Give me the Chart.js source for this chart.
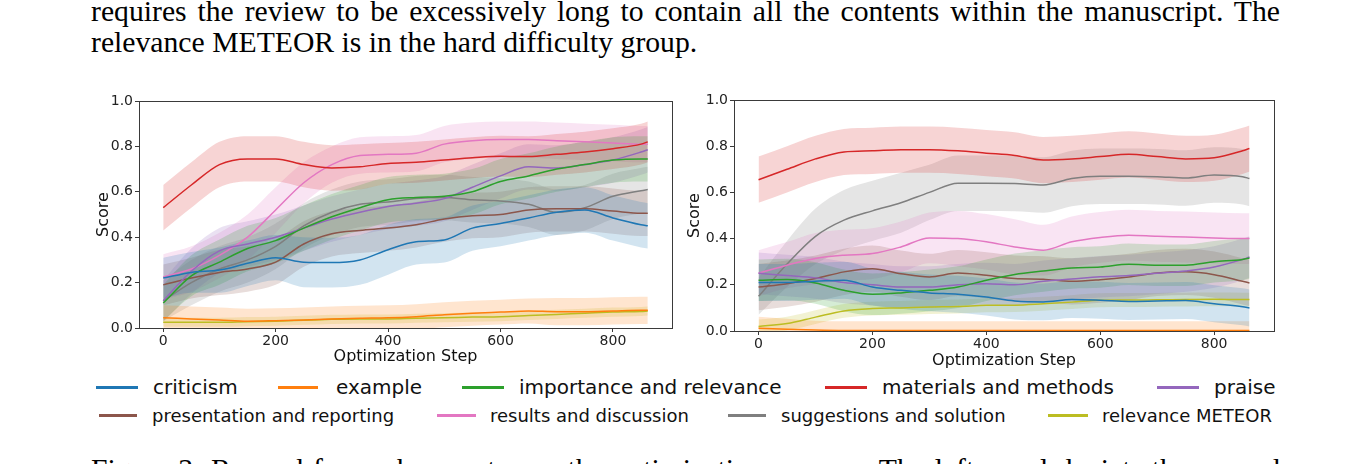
<!DOCTYPE html>
<html>
<head>
<meta charset="utf-8">
<script src="https://cdn.jsdelivr.net/npm/chart.js@4.4.1/dist/chart.umd.min.js"></script>
<style>
  body { margin: 0; background: #fff; width: 1369px; height: 464px; overflow: hidden; position: relative; }
  .para { position: absolute; left: 91px; width: 1189px; font-family: 'Liberation Serif', serif; font-size: 29.7px; line-height: 31px; color: #000; }
  .just { text-align: justify; text-align-last: justify; }
  canvas { position: absolute; }
  .leg { position: absolute; font-family: 'DejaVu Sans', sans-serif; color: #111; white-space: nowrap; }
  .sw { position: absolute; height: 3px; }
</style>
</head>
<body>
<div class="para" style="top:-4px">
  <div class="just">requires the review to be excessively long to contain all the contents within the manuscript. The</div>
  <div>relevance METEOR is in the hard difficulty group.</div>
</div>
<div class="para just" style="top:454px">Figure 3: Reward for each aspect over the optimization process. The left panel depicts the reward and the</div>

<canvas id="leftChart" width="600" height="282" style="left:80px;top:88px"></canvas>
<canvas id="rightChart" width="610" height="282" style="left:675px;top:88px"></canvas>
<div id="legend"></div>

<script>
// x positions of the smoothed curves (optimization step)
const steps = [0, 50, 100, 150, 200, 250, 300, 350, 400, 450, 500, 550, 600, 650, 700, 750, 800, 850, 862];
const categories = ['criticism', 'example', 'importance and relevance', 'materials and methods', 'praise',
                    'presentation and reporting', 'results and discussion', 'suggestions and solution', 'relevance METEOR'];
const yTicks = [0, 0.2, 0.4, 0.6, 0.8, 1.0];
const xTicks = [0, 200, 400, 600, 800];

// left panel: mean score and half width of the shaded band
const leftCriticism     = [0.22, 0.245, 0.255, 0.285, 0.31, 0.29, 0.288, 0.30, 0.345, 0.38, 0.388, 0.44, 0.46, 0.485, 0.51, 0.52, 0.485, 0.455, 0.45];
const leftExample       = [0.045, 0.04, 0.035, 0.03, 0.032, 0.035, 0.04, 0.043, 0.045, 0.05, 0.058, 0.065, 0.07, 0.075, 0.072, 0.072, 0.075, 0.078, 0.078];
const leftImportance    = [0.11, 0.23, 0.29, 0.35, 0.385, 0.44, 0.49, 0.53, 0.565, 0.575, 0.58, 0.60, 0.645, 0.67, 0.70, 0.72, 0.74, 0.745, 0.745];
const leftMaterials     = [0.53, 0.63, 0.72, 0.745, 0.745, 0.72, 0.705, 0.71, 0.725, 0.73, 0.74, 0.75, 0.757, 0.755, 0.765, 0.775, 0.79, 0.81, 0.82];
const leftPraise        = [0.12, 0.25, 0.34, 0.37, 0.40, 0.44, 0.48, 0.51, 0.535, 0.55, 0.57, 0.62, 0.67, 0.71, 0.705, 0.72, 0.74, 0.775, 0.785];
const leftPresentation  = [0.19, 0.22, 0.245, 0.26, 0.29, 0.37, 0.415, 0.43, 0.44, 0.455, 0.48, 0.495, 0.50, 0.52, 0.525, 0.525, 0.515, 0.505, 0.505];
const leftResults       = [0.225, 0.26, 0.32, 0.40, 0.52, 0.64, 0.72, 0.76, 0.765, 0.77, 0.81, 0.825, 0.83, 0.83, 0.825, 0.82, 0.815, 0.81, 0.81];
const leftSuggestions   = [0.12, 0.20, 0.26, 0.30, 0.36, 0.45, 0.51, 0.545, 0.555, 0.57, 0.575, 0.565, 0.56, 0.545, 0.51, 0.53, 0.58, 0.605, 0.61];
const leftMeteor        = [0.025, 0.025, 0.025, 0.028, 0.03, 0.034, 0.038, 0.04, 0.04, 0.043, 0.045, 0.048, 0.05, 0.055, 0.06, 0.065, 0.07, 0.073, 0.075];

const leftCriticismBand    = [0.09, 0.09, 0.1, 0.1, 0.1, 0.11, 0.11, 0.11, 0.11, 0.1, 0.1, 0.1, 0.1, 0.1, 0.1, 0.1, 0.1, 0.1, 0.1];
const leftExampleBand      = [0.055, 0.055, 0.055, 0.055, 0.055, 0.055, 0.055, 0.055, 0.055, 0.055, 0.055, 0.055, 0.055, 0.055, 0.06, 0.06, 0.06, 0.06, 0.06];
const leftImportanceBand   = [0.08, 0.09, 0.1, 0.1, 0.1, 0.1, 0.1, 0.1, 0.1, 0.1, 0.1, 0.1, 0.1, 0.1, 0.1, 0.1, 0.1, 0.1, 0.1];
const leftMaterialsBand    = [0.1, 0.1, 0.1, 0.1, 0.1, 0.1, 0.1, 0.1, 0.09, 0.09, 0.09, 0.09, 0.09, 0.09, 0.09, 0.09, 0.09, 0.09, 0.09];
const leftPraiseBand       = [0.09, 0.1, 0.1, 0.1, 0.1, 0.1, 0.1, 0.1, 0.1, 0.1, 0.1, 0.1, 0.1, 0.1, 0.1, 0.1, 0.1, 0.1, 0.1];
const leftPresentationBand = [0.09, 0.09, 0.1, 0.1, 0.1, 0.1, 0.1, 0.1, 0.1, 0.1, 0.1, 0.1, 0.1, 0.1, 0.1, 0.1, 0.1, 0.1, 0.1];
const leftResultsBand      = [0.1, 0.1, 0.1, 0.1, 0.1, 0.09, 0.08, 0.08, 0.08, 0.08, 0.08, 0.08, 0.08, 0.08, 0.08, 0.08, 0.08, 0.08, 0.08];
const leftSuggestionsBand  = [0.09, 0.1, 0.1, 0.1, 0.1, 0.1, 0.1, 0.1, 0.1, 0.1, 0.1, 0.1, 0.1, 0.1, 0.1, 0.1, 0.1, 0.1, 0.1];
const leftMeteorBand       = [0.02, 0.02, 0.02, 0.02, 0.02, 0.02, 0.02, 0.02, 0.02, 0.02, 0.02, 0.02, 0.02, 0.02, 0.02, 0.02, 0.02, 0.02, 0.02];

// right panel
const rightCriticism    = [0.21, 0.21, 0.215, 0.22, 0.19, 0.176, 0.165, 0.159, 0.147, 0.13, 0.126, 0.136, 0.133, 0.128, 0.13, 0.132, 0.118, 0.105, 0.10];
const rightExample      = [0.012, 0.008, 0.004, 0.002, 0.002, 0.002, 0.002, 0.002, 0.002, 0.002, 0.002, 0.002, 0.002, 0.002, 0.002, 0.002, 0.002, 0.002, 0.002];
const rightImportance   = [0.22, 0.223, 0.208, 0.176, 0.159, 0.165, 0.176, 0.19, 0.22, 0.245, 0.26, 0.273, 0.277, 0.289, 0.285, 0.285, 0.30, 0.31, 0.316];
const rightMaterials    = [0.655, 0.70, 0.745, 0.775, 0.78, 0.785, 0.785, 0.78, 0.77, 0.76, 0.74, 0.745, 0.755, 0.765, 0.755, 0.745, 0.75, 0.78, 0.79];
const rightPraise       = [0.25, 0.24, 0.23, 0.21, 0.20, 0.19, 0.19, 0.20, 0.205, 0.20, 0.215, 0.225, 0.235, 0.24, 0.25, 0.26, 0.277, 0.31, 0.32];
const rightPresentation = [0.19, 0.205, 0.227, 0.256, 0.27, 0.248, 0.234, 0.251, 0.241, 0.227, 0.224, 0.215, 0.222, 0.234, 0.251, 0.256, 0.244, 0.215, 0.208];
const rightResults      = [0.25, 0.285, 0.314, 0.328, 0.335, 0.364, 0.403, 0.40, 0.386, 0.364, 0.35, 0.386, 0.405, 0.415, 0.41, 0.407, 0.403, 0.40, 0.40];
const rightSuggestions  = [0.15, 0.29, 0.41, 0.48, 0.52, 0.555, 0.60, 0.64, 0.64, 0.638, 0.632, 0.66, 0.67, 0.67, 0.668, 0.662, 0.675, 0.668, 0.66];
const rightMeteor       = [0.02, 0.032, 0.06, 0.087, 0.097, 0.10, 0.104, 0.106, 0.111, 0.112, 0.118, 0.125, 0.133, 0.134, 0.135, 0.136, 0.137, 0.136, 0.136];

const rightCriticismBand    = [0.08, 0.08, 0.08, 0.08, 0.08, 0.08, 0.08, 0.08, 0.08, 0.08, 0.08, 0.08, 0.08, 0.08, 0.08, 0.08, 0.08, 0.08, 0.08];
const rightExampleBand      = [0.05, 0.045, 0.04, 0.04, 0.04, 0.04, 0.04, 0.04, 0.04, 0.04, 0.04, 0.04, 0.04, 0.04, 0.04, 0.04, 0.04, 0.04, 0.04];
const rightImportanceBand   = [0.09, 0.09, 0.09, 0.09, 0.09, 0.09, 0.09, 0.09, 0.09, 0.09, 0.09, 0.09, 0.09, 0.09, 0.09, 0.09, 0.09, 0.09, 0.09];
const rightMaterialsBand    = [0.1, 0.1, 0.1, 0.1, 0.1, 0.1, 0.1, 0.1, 0.1, 0.1, 0.1, 0.1, 0.1, 0.1, 0.1, 0.1, 0.1, 0.1, 0.1];
const rightPraiseBand       = [0.09, 0.09, 0.09, 0.09, 0.09, 0.09, 0.09, 0.09, 0.09, 0.09, 0.09, 0.09, 0.09, 0.09, 0.09, 0.09, 0.09, 0.09, 0.09];
const rightPresentationBand = [0.1, 0.1, 0.1, 0.1, 0.1, 0.1, 0.1, 0.1, 0.1, 0.1, 0.1, 0.1, 0.1, 0.1, 0.1, 0.1, 0.1, 0.1, 0.1];
const rightResultsBand      = [0.1, 0.1, 0.11, 0.11, 0.11, 0.11, 0.11, 0.12, 0.12, 0.12, 0.11, 0.11, 0.11, 0.11, 0.11, 0.11, 0.11, 0.11, 0.11];
const rightSuggestionsBand  = [0.08, 0.1, 0.12, 0.13, 0.13, 0.13, 0.12, 0.12, 0.12, 0.12, 0.12, 0.12, 0.12, 0.12, 0.12, 0.12, 0.12, 0.12, 0.12];
const rightMeteorBand       = [0.03, 0.03, 0.03, 0.03, 0.03, 0.03, 0.03, 0.03, 0.03, 0.03, 0.03, 0.03, 0.03, 0.03, 0.03, 0.03, 0.03, 0.03, 0.03];

const colors = ['#1f77b4', '#ff7f0e', '#2ca02c', '#d62728', '#9467bd', '#8c564b', '#e377c2', '#7f7f7f', '#bcbd22'];

function rgba(hex, a) {
  const n = parseInt(hex.slice(1), 16);
  return `rgba(${n >> 16},${(n >> 8) & 255},${n & 255},${a})`;
}

function buildDatasets(means, bands) {
  const ds = [];
  categories.forEach((name, i) => {
    const c = colors[i];
    const lo = steps.map((s, j) => ({ x: s, y: means[i][j] - bands[i][j] }));
    const hi = steps.map((s, j) => ({ x: s, y: means[i][j] + bands[i][j] }));
    const mid = steps.map((s, j) => ({ x: s, y: means[i][j] }));
    ds.push({ data: lo, borderWidth: 0, pointRadius: 0, fill: false, order: 2, cubicInterpolationMode: 'monotone' });
    ds.push({ data: hi, borderWidth: 0, pointRadius: 0, fill: '-1', backgroundColor: rgba(c, 0.2), order: 2, cubicInterpolationMode: 'monotone' });
    ds.push({ label: name, data: mid, borderColor: c, borderWidth: 1.5, pointRadius: 0, fill: false, order: 1, cubicInterpolationMode: 'monotone' });
  });
  return ds;
}

// box around the plot area like matplotlib spines
const frame = {
  id: 'frame',
  afterDraw(chart) {
    const { ctx, chartArea: a } = chart;
    ctx.save();
    ctx.strokeStyle = '#3a3a3a';
    ctx.lineWidth = 1;
    ctx.strokeRect(Math.round(a.left) + 0.5, Math.round(a.top) + 0.5, Math.round(a.right - a.left), Math.round(a.bottom - a.top));
    ctx.restore();
  }
};

function makeChart(id, datasets, opts) {
  const tickFont = { family: 'DejaVu Sans', size: 14 };
  return new Chart(document.getElementById(id), {
    type: 'line',
    data: { datasets },
    plugins: [frame],
    options: {
      responsive: false,
      animation: false,
      layout: { padding: { left: 0, right: opts.padRight, top: opts.padTop, bottom: 0 } },
      plugins: { legend: { display: false }, tooltip: { enabled: false } },
      scales: {
        x: {
          type: 'linear', min: -43.1, max: 905.1,
          afterBuildTicks: s => { s.ticks = xTicks.map(v => ({ value: v })); },
          afterFit: s => { s.height = opts.xHeight; },
          grid: { drawOnChartArea: false, drawTicks: true, tickLength: 4, color: '#3a3a3a' },
          border: { display: false },
          ticks: { font: tickFont, color: '#222', padding: 1 },
          title: { display: true, text: 'Optimization Step', font: { family: 'DejaVu Sans', size: 16 }, color: '#111', padding: { top: 0, bottom: opts.xTitlePad } }
        },
        y: {
          min: 0, max: 1,
          afterBuildTicks: s => { s.ticks = yTicks.map(v => ({ value: v })); },
          afterFit: s => { s.width = 59; },
          grid: { drawOnChartArea: false, drawTicks: true, tickLength: 4, color: '#3a3a3a' },
          border: { display: false },
          ticks: { font: tickFont, color: '#222', padding: 2, callback: v => v.toFixed(1) },
          title: { display: true, text: 'Score', font: { family: 'DejaVu Sans', size: 16 }, color: '#111', padding: { top: opts.yTitlePad, bottom: 0 } }
        }
      }
    }
  });
}

const leftMeans = [leftCriticism, leftExample, leftImportance, leftMaterials, leftPraise, leftPresentation, leftResults, leftSuggestions, leftMeteor];
const leftBands = [leftCriticismBand, leftExampleBand, leftImportanceBand, leftMaterialsBand, leftPraiseBand, leftPresentationBand, leftResultsBand, leftSuggestionsBand, leftMeteorBand];
const rightMeans = [rightCriticism, rightExample, rightImportance, rightMaterials, rightPraise, rightPresentation, rightResults, rightSuggestions, rightMeteor];
const rightBands = [rightCriticismBand, rightExampleBand, rightImportanceBand, rightMaterialsBand, rightPraiseBand, rightPresentationBand, rightResultsBand, rightSuggestionsBand, rightMeteorBand];

makeChart('leftChart', buildDatasets(leftMeans, leftBands), { padRight: 8, padTop: 13, xHeight: 42, xTitlePad: 4, yTitlePad: 14 });
makeChart('rightChart', buildDatasets(rightMeans, rightBands), { padRight: 11, padTop: 12, xHeight: 39, xTitlePad: 0, yTitlePad: 10 });

// shared legend under both panels, two rows
const legendRows = [
  { top: 375, size: 20, lh: 24, lineY: 387, items: [[96, 42, 153], [278, 40, 336], [462, 42, 519], [825, 42, 882], [1157, 42, 1214]] },
  { top: 405, size: 18, lh: 22, lineY: 415, items: [[99, 38, 152], [437, 39, 490], [728, 38, 781], [1048, 40, 1102]] }
];
const legend = document.getElementById('legend');
let k = 0;
legendRows.forEach(row => {
  row.items.forEach(([lx, lw, tx]) => {
    const sw = document.createElement('div');
    sw.className = 'sw';
    sw.style.cssText = `left:${lx}px;top:${row.lineY - 1}px;width:${lw}px;background:${colors[k]}`;
    legend.appendChild(sw);
    const t = document.createElement('div');
    t.className = 'leg';
    t.style.cssText = `left:${tx}px;top:${row.top}px;font-size:${row.size}px;line-height:${row.lh}px`;
    t.textContent = categories[k];
    legend.appendChild(t);
    k++;
  });
});
</script>
</body>
</html>
